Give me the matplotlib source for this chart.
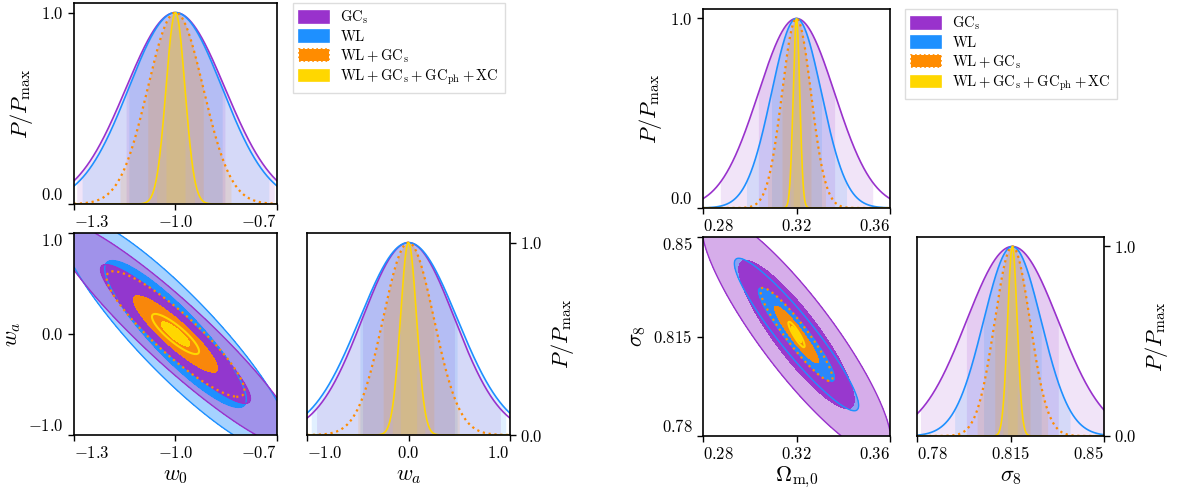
import numpy as np
import matplotlib
matplotlib.use('Agg')
import matplotlib.pyplot as plt
from matplotlib.patches import Patch

plt.rcParams['mathtext.fontset'] = 'cm'
plt.rcParams['font.family'] = ['DejaVu Serif']

# probes: GCs, WL, WL+GCs, WL+GCs+GCph+XC
labels = [r'$\mathrm{GC}_{\rm s}$', r'$\mathrm{WL}$',
          r'$\mathrm{WL} + \mathrm{GC}_{\rm s}$',
          r'$\mathrm{WL} + \mathrm{GC}_{\rm s} + \mathrm{GC}_{\rm ph} + \mathrm{XC}$']
colors = ['#9932CC', '#1E90FF', '#FF8C00', '#FFD700']
styles = ['-', '-', ':', '-']

# w0 - wa  (fiducial and 1-sigma errors)
fid_w0, fid_wa = -1.0, 0.0
sig_w0 = [0.146, 0.138, 0.082, 0.028]
sig_wa = [0.453, 0.479, 0.250, 0.080]
rho_w0wa = [-0.93, -0.89, -0.90, -0.86]

# Omega_m - sigma_8
fid_om, fid_s8 = 0.32, 0.8157
sig_om = [0.0163, 0.0107, 0.0062, 0.0014]
sig_s8 = [0.0172, 0.0108, 0.0066, 0.0018]
rho_oms8 = [-0.88, -0.93, -0.93, -0.90]

w0_lim, wa_lim = (-1.3, -0.7), (-1.0, 1.0)
om_lim, s8_lim = (0.28, 0.36), (0.78, 0.85)
w0_ticks, wa_ticks = [-1.3, -1.0, -0.7], [-1.0, 0.0, 1.0]
om_ticks, s8_ticks = [0.28, 0.32, 0.36], [0.78, 0.815, 0.85]
p_ticks = [0.0, 1.0]

CHI1, CHI2 = 2.30, 6.17

fig = plt.figure(figsize=(12, 4.92), dpi=100)


def px_axes(l, r, t, b):
    return fig.add_axes([l / 1200, 1 - b / 492, (r - l) / 1200, (b - t) / 492])


def fmt(v):
    s = ('%.3f' % v).rstrip('0')
    if s.endswith('.'):
        s += '0'
    return r'$%s$' % s


def style(ax, xlim, ylim, xt, yt):
    ax.set_xlim(*xlim)
    ax.set_ylim(*ylim)
    ax.set_xticks(xt)
    ax.set_xticklabels([fmt(v) for v in xt])
    ax.set_yticks(yt)
    ax.set_yticklabels([fmt(v) for v in yt])
    ax.tick_params(direction='out', length=4, width=1, labelsize=12)
    # keep end labels inside the axes span, like getdist does
    xl = ax.get_xticklabels()
    if np.isclose(xt[0], xlim[0]):
        xl[0].set_ha('left')
    if np.isclose(xt[-1], xlim[1]):
        xl[-1].set_ha('right')
    yl = ax.get_yticklabels()
    if np.isclose(yt[0], ylim[0]):
        yl[0].set_va('bottom')
    if np.isclose(yt[-1], ylim[1]):
        yl[-1].set_va('top')
    for s in ax.spines.values():
        s.set_linewidth(1.2)


def one_d(ax, mu, sigs, lim):
    x = np.linspace(lim[0], lim[1], 800)
    for s, c in zip(sigs, colors):
        for k in (2, 1):
            xs = np.linspace(max(mu - k * s, lim[0]), min(mu + k * s, lim[1]), 400)
            ax.fill_between(xs, 0, np.exp(-0.5 * ((xs - mu) / s) ** 2),
                            color=c, alpha=0.13, lw=0)
    for s, c, ls in zip(sigs, colors, styles):
        ax.plot(x, np.exp(-0.5 * ((x - mu) / s) ** 2), color=c, ls=ls,
                lw=1.6 if ls == ':' else 1.2)


def chi2_grid(xlim, ylim, mu, s, r):
    x = np.linspace(xlim[0], xlim[1], 500)
    y = np.linspace(ylim[0], ylim[1], 500)
    X, Y = np.meshgrid(x, y)
    dx, dy = (X - mu[0]) / s[0], (Y - mu[1]) / s[1]
    return X, Y, (dx ** 2 - 2 * r * dx * dy + dy ** 2) / (1 - r ** 2)


def fill(ax, g, lev, c, a):
    ax.contourf(g[0], g[1], g[2], levels=[0, lev], colors=[c], alpha=a)


def line(ax, g, lev, c, ls='-', lw=1.0):
    ax.contour(g[0], g[1], g[2], levels=[lev], colors=[c], linestyles=[ls], linewidths=lw)


def two_d(ax, xlim, ylim, mu, sx, sy, rho, right=False):
    g = [chi2_grid(xlim, ylim, mu, (sx[i], sy[i]), rho[i]) for i in range(4)]
    if not right:
        fill(ax, g[1], CHI2, colors[1], 0.4)
        fill(ax, g[0], CHI2, colors[0], 0.4)
        line(ax, g[1], CHI2, colors[1])
        line(ax, g[0], CHI2, colors[0])
        fill(ax, g[1], CHI1, colors[1], 1.0)
        fill(ax, g[0], CHI1, colors[0], 0.95)
        line(ax, g[1], CHI1, colors[1])
        line(ax, g[0], CHI1, colors[0])
    else:
        fill(ax, g[0], CHI2, colors[0], 0.4)
        line(ax, g[0], CHI2, colors[0])
        fill(ax, g[1], CHI2, colors[1], 0.4)
        fill(ax, g[0], CHI1, colors[0], 0.95)
        line(ax, g[1], CHI2, colors[1])
        fill(ax, g[1], CHI1, colors[1], 0.9)
        line(ax, g[1], CHI1, colors[1])
    fill(ax, g[2], CHI1, colors[2], 0.95)
    line(ax, g[2], CHI2, colors[2], ':', 1.6)
    fill(ax, g[3], CHI1, colors[3], 1.0)
    line(ax, g[3], CHI2, colors[3], '-', 1.5)


def legend(l, t):
    handles = [Patch(facecolor=c, edgecolor=c, linestyle=ls, linewidth=1.2)
               for c, ls in zip(colors, styles)]
    fig.legend(handles, labels, loc='upper left', bbox_to_anchor=(l / 1200, 1 - t / 492),
               borderaxespad=0, fontsize=10.5, handlelength=2.1, handleheight=0.85,
               handletextpad=0.75, labelspacing=0.2, fancybox=False,
               edgecolor='#dddddd', framealpha=1)


lab = 16
pad = 1

# ---- left triangle: w0 / wa
ax = px_axes(74, 277, 3, 204)
one_d(ax, fid_w0, sig_w0, w0_lim)
style(ax, w0_lim, (0, 1.05), w0_ticks, p_ticks)
ax.set_ylabel(r'$P/P_{\rm max}$', fontsize=lab)

ax = px_axes(74, 277, 233, 435)
two_d(ax, w0_lim, wa_lim, (fid_w0, fid_wa), sig_w0, sig_wa, rho_w0wa)
style(ax, w0_lim, wa_lim, w0_ticks, wa_ticks)
ax.set_xlabel(r'$w_0$', fontsize=lab, labelpad=pad)
ax.set_ylabel(r'$w_a$', fontsize=lab)

ax = px_axes(307, 510, 233, 435)
one_d(ax, fid_wa, sig_wa, wa_lim)
style(ax, wa_lim, (0, 1.05), wa_ticks, p_ticks)
ax.yaxis.tick_right()
ax.yaxis.set_label_position('right')
ax.set_xlabel(r'$w_a$', fontsize=lab, labelpad=pad)
ax.set_ylabel(r'$P/P_{\rm max}$', fontsize=lab)

legend(293, 3)

# ---- right triangle: Omega_m / sigma_8
ax = px_axes(703, 890, 9, 208)
one_d(ax, fid_om, sig_om, om_lim)
style(ax, om_lim, (0, 1.05), om_ticks, p_ticks)
ax.set_ylabel(r'$P/P_{\rm max}$', fontsize=lab)

ax = px_axes(703, 890, 237, 436)
two_d(ax, om_lim, s8_lim, (fid_om, fid_s8), sig_om, sig_s8, rho_oms8, right=True)
style(ax, om_lim, s8_lim, om_ticks, s8_ticks)
ax.set_xlabel(r'$\Omega_{\mathrm{m},\!0}$', fontsize=lab, labelpad=pad)
ax.set_ylabel(r'$\sigma_8$', fontsize=lab)

ax = px_axes(917, 1104, 237, 436)
one_d(ax, fid_s8, sig_s8, s8_lim)
style(ax, s8_lim, (0, 1.05), s8_ticks, p_ticks)
ax.yaxis.tick_right()
ax.yaxis.set_label_position('right')
ax.set_xlabel(r'$\sigma_8$', fontsize=lab, labelpad=pad)
ax.set_ylabel(r'$P/P_{\rm max}$', fontsize=lab)

legend(905, 9)

fig.savefig('out.png', dpi=100)
